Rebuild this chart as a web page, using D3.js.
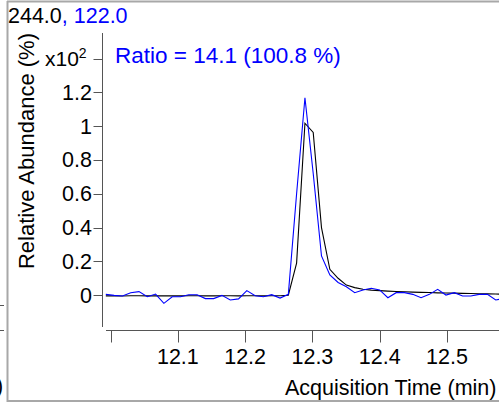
<!DOCTYPE html>
<html>
<head>
<meta charset="utf-8">
<script src="https://cdn.jsdelivr.net/npm/d3@7"></script>
<style>
  html, body { margin: 0; padding: 0; background: #fff; }
  svg { display: block; }
  text { font-family: "Liberation Sans", Arial, sans-serif; }
</style>
</head>
<body>
<svg id="chart" width="499" height="404"></svg>
<script>
// ---- data ----
const titleQuant = "244.0";
const titleQual = ", 122.0";
const ratioLabel = "Ratio = 14.1 (100.8 %)";
const xLabel = "Acquisition Time (min)";
const yLabel = "Relative Abundance (%)";
const xTicks = [12.0, 12.1, 12.2, 12.3, 12.4, 12.5];
const xTickLabels = ["", "12.1", "12.2", "12.3", "12.4", "12.5"];
const yTicks = [0, 0.2, 0.4, 0.6, 0.8, 1.0, 1.2, 1.4];
const yTickLabels = ["0", "0.2", "0.4", "0.6", "0.8", "1", "1.2", "x10"];

const times = [11.9929, 12.0052, 12.0176, 12.0299, 12.0422, 12.0546, 12.0669, 12.0792,
  12.0916, 12.1039, 12.1162, 12.1286, 12.1409, 12.1532, 12.1655, 12.1779,
  12.1902, 12.2025, 12.2149, 12.2272, 12.2395, 12.2519, 12.2642, 12.2765,
  12.2889, 12.3012, 12.3135, 12.3259, 12.3382, 12.3505, 12.3629, 12.3752,
  12.3875, 12.3999, 12.4122, 12.4245, 12.4369, 12.4492, 12.4615, 12.4739,
  12.4862, 12.4985, 12.5109, 12.5232, 12.5355, 12.5478, 12.5602, 12.5725, 12.5848];

// quantifier ion 244.0 (black)
const quantValues = [-0.004, -0.004, -0.005, -0.003, -0.003, -0.004, -0.004, -0.004,
  -0.003, -0.004, -0.003, -0.003, -0.004, -0.004, -0.003, -0.003,
  -0.004, -0.003, -0.003, -0.004, -0.003, -0.003, 0.0, 0.19,
  1.017, 0.963, 0.40, 0.153, 0.10, 0.06, 0.045, 0.035,
  0.030, 0.027, 0.024, 0.022, 0.020, 0.018, 0.017, 0.016,
  0.014, 0.013, 0.012, 0.011, 0.010, 0.009, 0.008, 0.007, 0.006];

// qualifier ion 122.0 (blue)
const qualValues = [0.005, -0.001, -0.005, 0.015, 0.021, -0.009, 0.007, -0.048,
  -0.009, -0.009, 0.003, 0.003, -0.02, -0.02, -0.001, -0.028,
  -0.022, 0.027, -0.003, -0.009, 0.003, -0.017, 0.005, 0.60,
  1.168, 0.72, 0.232, 0.12, 0.075, 0.05, 0.015, 0.031,
  0.041, 0.031, -0.015, 0.015, 0.015, 0.005, -0.015, 0.005,
  0.035, 0.001, 0.015, -0.005, -0.005, 0.005, 0.005, -0.028, -0.02];

// ---- drawing ----
const W = 499, H = 404;
const svg = d3.select("#chart");
const FS = 21.5;
const blue = "#0000ff";
const axisColor = "#555";

const x = d3.scaleLinear().domain([12.0, 12.5]).range([110.6, 446.95]);
const y = d3.scaleLinear().domain([0, 1.4]).range([295.2, 58.5]);

// frame (panel border) and remnants of the neighbouring panel
svg.append("line").attr("x1", 7.5).attr("x2", 7.5).attr("y1", 1).attr("y2", 402)
  .attr("stroke", "#a8a8a8").attr("stroke-width", 2);
svg.append("line").attr("x1", 7).attr("x2", W).attr("y1", 1.5).attr("y2", 1.5)
  .attr("stroke", "#a8a8a8").attr("stroke-width", 2);
svg.append("line").attr("x1", 7).attr("x2", W).attr("y1", 401).attr("y2", 401)
  .attr("stroke", "#a8a8a8").attr("stroke-width", 2);
[305, 330].forEach(v => svg.append("line").attr("x1", 0).attr("x2", 4)
  .attr("y1", v + 0.5).attr("y2", v + 0.5).attr("stroke", axisColor));
svg.append("text").attr("x", -4).attr("y", 393).attr("font-size", FS).text(")");

// title
const title = svg.append("text").attr("x", 8).attr("y", 23).attr("font-size", FS);
title.append("tspan").attr("fill", "#000").text(titleQuant);
title.append("tspan").attr("fill", blue).text(titleQual);

// ratio
svg.append("text").attr("x", 115).attr("y", 63).attr("font-size", 22.5)
  .attr("fill", blue).text(ratioLabel);

// y axis
const yAxisX = 102.5;
svg.append("line").attr("x1", yAxisX).attr("x2", yAxisX)
  .attr("y1", 33).attr("y2", 327).attr("stroke", axisColor);
const yg = svg.append("g");
yTicks.forEach((t, i) => {
  const yy = Math.round(y(t)) + 0.5;
  const last = i === yTicks.length - 1;
  yg.append("line").attr("x1", yAxisX - 9).attr("x2", yAxisX)
    .attr("y1", yy).attr("y2", yy).attr("stroke", axisColor);
  const lab = yg.append("text")
    .attr("text-anchor", last ? "start" : "end")
    .attr("x", last ? 45 : 92)
    .attr("y", y(t)).attr("dy", "0.35em")
    .attr("font-size", last ? 21 : FS).text(yTickLabels[i]);
  if (last) {
    lab.append("tspan").attr("font-size", 14).attr("dy", "-0.55em").text("2");
  }
});
svg.append("text")
  .attr("transform", `translate(33.5,151) rotate(-90)`)
  .attr("text-anchor", "middle").attr("font-size", 22).text(yLabel);

// x axis
const xAxisY = 330.5;
svg.append("line").attr("x1", 106).attr("x2", W).attr("y1", xAxisY).attr("y2", xAxisY)
  .attr("stroke", axisColor);
const xg = svg.append("g");
xTicks.forEach((t, i) => {
  const xx = Math.round(x(t)) + 0.5;
  xg.append("line").attr("x1", xx).attr("x2", xx).attr("y1", xAxisY).attr("y2", xAxisY + 12)
    .attr("stroke", axisColor);
  xg.append("text").attr("text-anchor", "middle").attr("x", x(t)).attr("y", 363.5)
    .attr("font-size", FS).text(xTickLabels[i]);
});
svg.append("text").attr("x", 285).attr("y", 395).attr("font-size", 21.5).text(xLabel);

// traces
svg.append("clipPath").attr("id", "plotclip").append("rect")
  .attr("x", 105).attr("y", 30).attr("width", W - 105).attr("height", 300);
const line = d3.line().x(d => x(d[0])).y(d => y(d[1]));
const plot = svg.append("g").attr("clip-path", "url(#plotclip)");
plot.append("path").datum(times.map((t, i) => [t, quantValues[i]]))
  .attr("d", line).attr("fill", "none").attr("stroke", "#000").attr("stroke-width", 1.1);
plot.append("path").datum(times.map((t, i) => [t, qualValues[i]]))
  .attr("d", line).attr("fill", "none").attr("stroke", blue).attr("stroke-width", 1.1);
</script>
</body>
</html>
